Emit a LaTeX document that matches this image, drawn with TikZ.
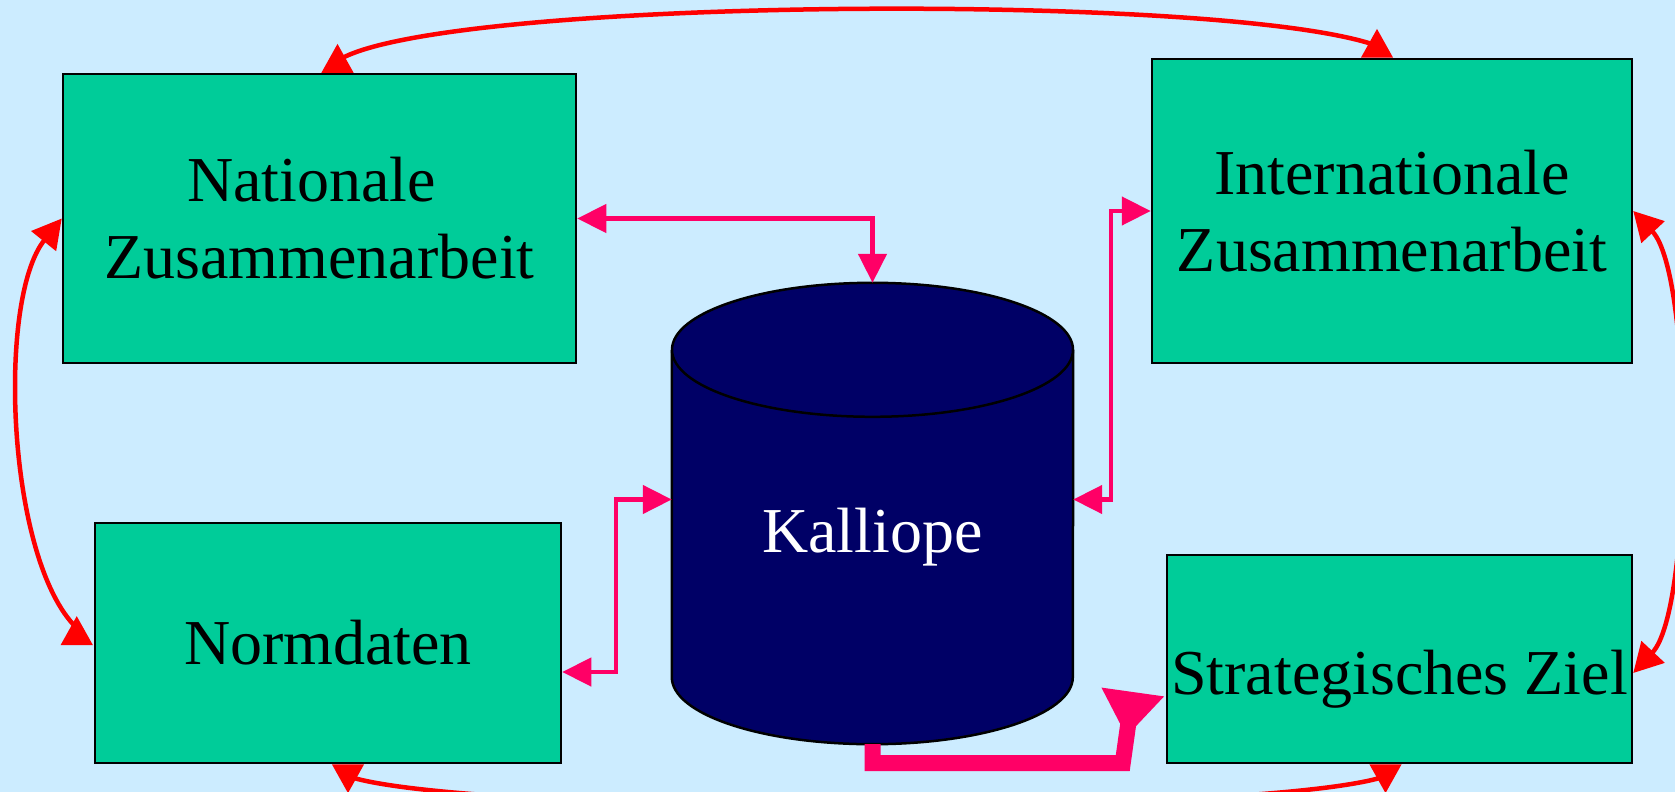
\documentclass[tikz,border=0pt]{standalone}
\usepackage{fontspec}
\setmainfont{Liberation Serif}
\usepackage{tikz}
\usetikzlibrary{backgrounds, calc}
\usetikzlibrary{arrows.meta}

\definecolor{bgblue}{HTML}{CCECFF}
\definecolor{boxgreen}{HTML}{00CC99}
\definecolor{kallblue}{HTML}{000066}
\definecolor{linkpink}{HTML}{FF0066}

\tikzset{redtip/.tip={Triangle[length=29pt,width=31pt]}}
\tikzset{redback/.tip={Triangle[length=29pt,width=31pt,reversed]}}

\tikzstyle{sector} = [rectangle, draw=black, line width=2.5pt, fill=boxgreen, inner sep=0pt, text centered, align=center, font=\fontsize{64}{77}\selectfont]
\tikzstyle{db} = [rectangle, inner sep=0pt, minimum width=401pt, minimum height=327pt]
\tikzstyle{dbtext} = [text=white, inner sep=0pt, font=\fontsize{64}{77}\selectfont]
\tikzstyle{pinklink} = [draw=linkpink, line width=4.5pt, {Triangle[length=29pt,width=28pt]}-{Triangle[length=29pt,width=28pt]}]
\tikzstyle{mainlink} = [draw=linkpink, line width=16pt, -{Triangle[length=45pt,width=60pt,reversed]}]
\tikzstyle{redlink} = [draw=red, line width=4.5pt]

\begin{document}
\begin{tikzpicture}[x=1pt, y=-1pt]

\useasboundingbox (0,0) rectangle (1675,792);
\begin{scope}[on background layer]
    \fill[bgblue] (0,0) rectangle (1675,792);
\end{scope}


\node (nat) [sector, minimum width=513pt, minimum height=289pt] at (319.5,218.5) {Nationale\hphantom{\ }\\Zusammenarbeit};
\node (intl) [sector, minimum width=480pt, minimum height=304pt] at (1392,211) {Internationale\\Zusammenarbeit};
\node (norm) [sector, minimum width=466pt, minimum height=240pt] at (328,643) {Normdaten};
\node (ziel) [sector, minimum width=465pt, minimum height=208pt, text height=70pt, text depth=0pt] at (1399.5,659) {Strategisches Ziel};


\node (kall) [db] at (872.5,513.5) {};
\coordinate (kalltop) at ($(kall.north)+(0,-67)$);
\coordinate (kallbot) at ($(kall.south)+(0,67)$);
\fill[kallblue] (kall.south) ellipse [x radius=200.5, y radius=67];
\fill[kallblue] (kall.north west) rectangle (kall.south east);
\draw[line width=2.5pt] (kall.north west) -- (kall.south west) arc [start angle=180, end angle=0, x radius=200.5, y radius=67] -- (kall.north east);
\filldraw[fill=kallblue, draw=black, line width=2.5pt] (kall.north) ellipse [x radius=200.5, y radius=67];
\node (kalltxt) [dbtext, anchor=base] at (872.5,552) {Kalliope};


\draw[pinklink] (nat.east) -| (kalltop);
\draw[pinklink] (intl.west) -- ++(-40,0) |- ($(kall.east)+(0,-14)$);
\draw[pinklink] ($(kall.west)+(0,-14)$) -- ++(-56,0) |- ($(norm.east)+(0,29)$);

\coordinate (zielin) at ($(ziel.west)+(-33,33)$);
\coordinate (bend) at ($(zielin)+(-10,71)$);
\draw[mainlink] (kallbot) |- (bend) -- (zielin);


\draw[redlink, {redback}-{redback}] ($(nat.north)+(18,0)$) -- ++(0,-12) .. controls +(100,-64) and +(-150,-54) .. ($(intl.north)+(-15,-12)$) -- ++(0,12);
\draw[redlink, {redtip}-{redback}] (nat.west) .. controls +(-65,81) and +(-70,-68) .. ($(norm.west)+(-17,-15)$) -- ++(0,17);
\draw[redlink, {redtip}-{redtip}] (intl.east) .. controls +(60,64) and +(60,-64) .. ($(ziel.east)+(0,14)$);
\draw[redlink, {redback}-{redback}] ($(norm.south)+(20,0)$) -- ++(0,12) .. controls +(120,40) and +(-120,40) .. ($(ziel.south)+(-14,12)$) -- ++(0,-12);

\end{tikzpicture}
\end{document}
